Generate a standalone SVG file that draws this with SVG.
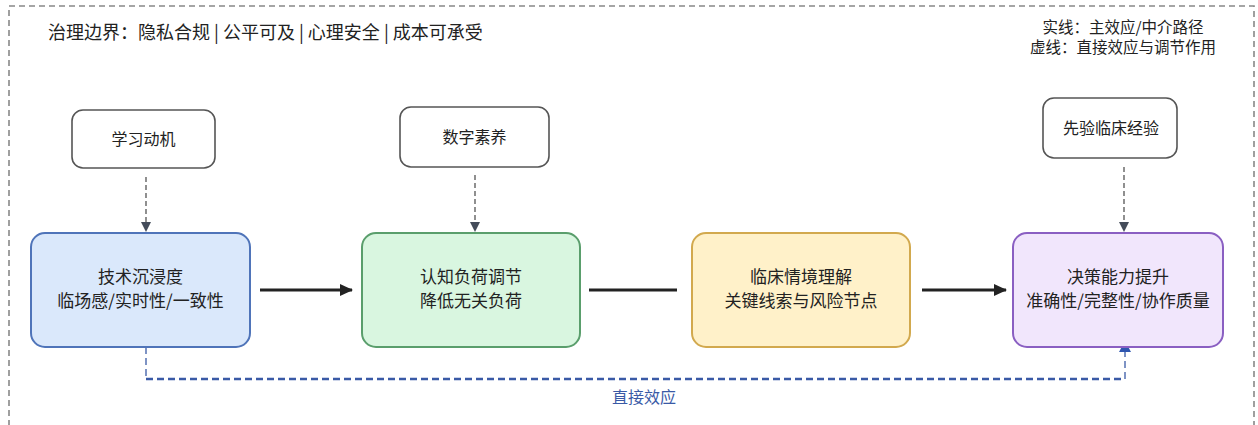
<svg xmlns="http://www.w3.org/2000/svg" width="1258" height="425" viewBox="0 0 1258 425">
  <defs>
    <style>
      text { font-family: "Noto Sans CJK SC", "Noto Sans", sans-serif; fill: #222; }
      .main { font-size: 17px; text-anchor: middle; }
      .small { font-size: 16px; text-anchor: middle; }
      .title { font-size: 18px; }
      .legend { font-size: 15.5px; text-anchor: middle; }
      .mod { fill: #ffffff; stroke: #555555; stroke-width: 1.6; }
      .solid { stroke: #222222; stroke-width: 3; fill: none; }
      .dash { stroke: #555555; stroke-width: 1.3; stroke-dasharray: 5 3; fill: none; }
      .direct { stroke: #3a5aa6; fill: none; stroke-dasharray: 7 4; }
    </style>
    <marker id="ahBig" markerWidth="14" markerHeight="14" refX="12" refY="7" orient="auto" markerUnits="userSpaceOnUse">
      <path d="M0,1 L13,7 L0,13 z" fill="#222222"/>
    </marker>
    <marker id="ahGray" markerWidth="10" markerHeight="10" refX="9" refY="5" orient="auto" markerUnits="userSpaceOnUse">
      <path d="M0,0 L10,5 L0,10 z" fill="#444c5a"/>
    </marker>
    <marker id="ahBlue" markerWidth="12" markerHeight="12" refX="10" refY="6" orient="auto" markerUnits="userSpaceOnUse">
      <path d="M0,0 L11,6 L0,12 z" fill="#2f56b0"/>
    </marker>
  </defs>

  <rect x="0" y="0" width="1258" height="425" fill="#ffffff"/>

  <!-- outer governance boundary -->
  <g id="boundary">
    <rect x="9" y="6" width="1245" height="440" fill="none" stroke="#888888" stroke-width="1.6" stroke-dasharray="6 4"/>
    <text class="title" x="48" y="38.5">治理边界：隐私合规 | 公平可及 | 心理安全 | 成本可承受</text>
  </g>

  <g id="legend">
    <text class="legend" x="1123" y="33">实线：主效应/中介路径</text>
    <text class="legend" x="1123" y="53">虚线：直接效应与调节作用</text>
  </g>

  <!-- connectors -->
  <g id="connectors">
    <line class="solid" x1="260" y1="290" x2="352" y2="290" marker-end="url(#ahBig)"/>
    <line class="solid" x1="589" y1="290" x2="677" y2="290"/>
    <line class="solid" x1="922" y1="290" x2="1006" y2="290" marker-end="url(#ahBig)"/>

    <line class="dash" x1="146" y1="177" x2="146" y2="231" marker-end="url(#ahGray)"/>
    <line class="dash" x1="475" y1="175" x2="475" y2="231" marker-end="url(#ahGray)"/>
    <line class="dash" x1="1124" y1="167" x2="1124" y2="231" marker-end="url(#ahGray)"/>

    <path class="direct" d="M146,347 L146,379" stroke-width="1.3" stroke="#5a6f96"/>
    <path class="direct" d="M146,379 L1125,379" stroke-width="2.6"/>
    <path class="direct" d="M1125,379 L1125,342" stroke-width="1.3" stroke="#5a6f96" marker-end="url(#ahBlue)"/>
    <text class="small" x="644" y="403" style="fill:#3a5aa6">直接效应</text>
  </g>

  <!-- moderator nodes -->
  <g id="motivation">
    <rect class="mod" x="72" y="110" width="143" height="58" rx="11"/>
    <text class="small" x="143.5" y="144.5">学习动机</text>
  </g>
  <g id="digital-literacy">
    <rect class="mod" x="400" y="107" width="149" height="60" rx="11"/>
    <text class="small" x="474.5" y="142.5">数字素养</text>
  </g>
  <g id="prior-experience">
    <rect class="mod" x="1043" y="98" width="134" height="60" rx="11"/>
    <text class="small" x="1111" y="133.5">先验临床经验</text>
  </g>

  <!-- main chain nodes -->
  <g id="immersion">
    <rect x="31" y="233" width="219" height="114" rx="14" fill="#dae8fb" stroke="#4f74b9" stroke-width="2"/>
    <text class="main" x="140.5" y="283">技术沉浸度</text>
    <text class="main" x="140.5" y="307">临场感/实时性/一致性</text>
  </g>
  <g id="cognitive-load">
    <rect x="362" y="233" width="218" height="114" rx="14" fill="#d9f6e0" stroke="#5a9e6c" stroke-width="2"/>
    <text class="main" x="471" y="283">认知负荷调节</text>
    <text class="main" x="471" y="307">降低无关负荷</text>
  </g>
  <g id="situation">
    <rect x="692" y="233" width="218" height="114" rx="14" fill="#fff1c9" stroke="#d2a94e" stroke-width="2"/>
    <text class="main" x="801" y="283">临床情境理解</text>
    <text class="main" x="801" y="307">关键线索与风险节点</text>
  </g>
  <g id="decision">
    <rect x="1013" y="233" width="210" height="114" rx="14" fill="#f1e6fc" stroke="#8a5fc2" stroke-width="2"/>
    <text class="main" x="1118" y="283">决策能力提升</text>
    <text class="main" x="1118" y="307">准确性/完整性/协作质量</text>
  </g>
</svg>
